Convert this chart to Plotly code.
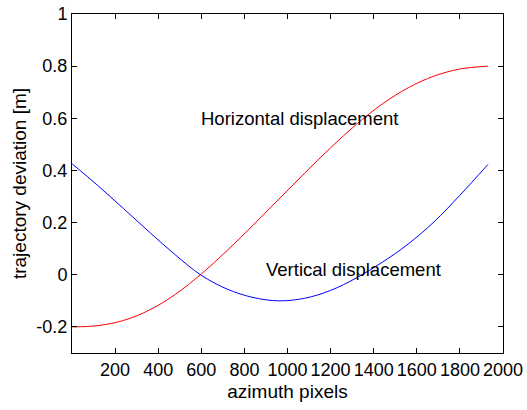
import plotly.graph_objects as go

# Data
x_pts = [1, 120, 240, 360, 480, 600, 720, 840, 960, 1080, 1200, 1320, 1440, 1560, 1680, 1800, 1930]
horizontal = [-0.200, -0.195, -0.175, -0.135, -0.075, 0.003, 0.093, 0.190, 0.290, 0.390, 0.487, 0.577, 0.655, 0.717, 0.762, 0.789, 0.800]
vertical = [0.425, 0.342, 0.253, 0.163, 0.076, -0.002, -0.055, -0.087, -0.100, -0.090, -0.060, -0.012, 0.048, 0.118, 0.203, 0.305, 0.423]

x_ticks = [200, 400, 600, 800, 1000, 1200, 1400, 1600, 1800, 2000]
y_ticks = [-0.2, 0, 0.2, 0.4, 0.6, 0.8, 1]
y_ticklabels = ["-0.2", "0", "0.2", "0.4", "0.6", "0.8", "1"]

labels = [
    {"text": "Horizontal displacement", "x": 600, "y": 0.6},
    {"text": "Vertical displacement", "x": 900, "y": 0.02},
]

FONT = "Liberation Sans, Arial, sans-serif"

fig = go.Figure()
fig.add_trace(go.Scatter(x=x_pts, y=horizontal, mode="lines", line=dict(color="#ff0000", width=1, shape="spline"), showlegend=False))
fig.add_trace(go.Scatter(x=x_pts, y=vertical, mode="lines", line=dict(color="#0000ff", width=1, shape="spline"), showlegend=False))

for lab in labels:
    fig.add_annotation(x=lab["x"], y=lab["y"], text=lab["text"], showarrow=False,
                       xanchor="left", yanchor="middle", xshift=-2,
                       font=dict(family=FONT, size=18.5, color="black"))

axis_common = dict(showgrid=False, zeroline=False, showline=True, linecolor="black", linewidth=1,
                   mirror="ticks", ticks="inside", ticklen=5, tickcolor="black", automargin=False,
                   tickfont=dict(family=FONT, size=18, color="black"))

fig.update_xaxes(range=[0, 2000], tickvals=x_ticks, ticktext=[str(v) for v in x_ticks], tickangle=0,
                 title=dict(text="azimuth pixels", font=dict(family=FONT, size=19, color="black"), standoff=6),
                 **axis_common)
fig.update_yaxes(range=[-0.3, 1], tickvals=y_ticks, ticktext=y_ticklabels,
                 title=dict(text="trajectory deviation [m]", font=dict(family=FONT, size=19, color="black"), standoff=4),
                 **axis_common)

fig.update_layout(width=527, height=410, margin=dict(l=72, r=24, t=14, b=57),
                  paper_bgcolor="white", plot_bgcolor="white")

fig.write_html("out.html")
